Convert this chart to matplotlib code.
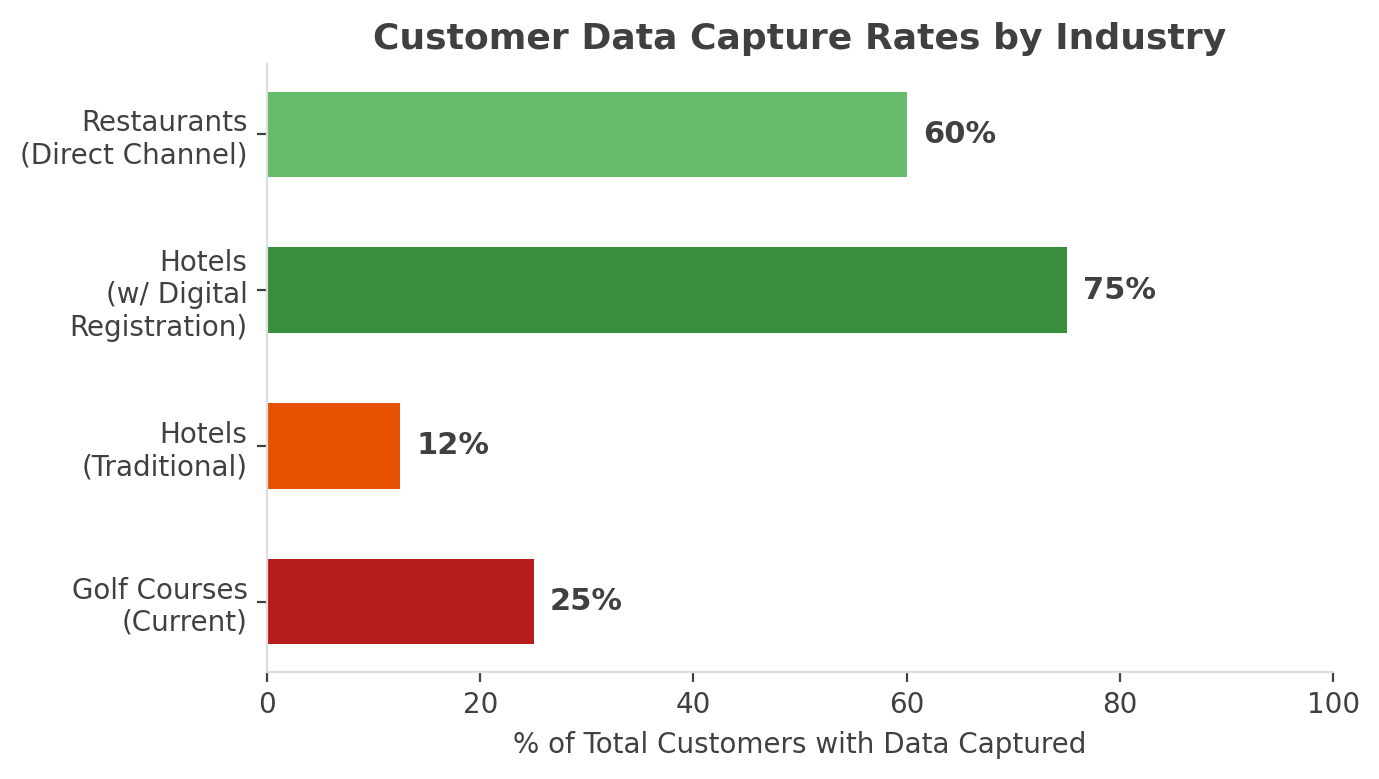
import matplotlib
matplotlib.use('Agg')
import matplotlib.pyplot as plt

# data
categories = ['Golf Courses\n(Current)', 'Hotels\n(Traditional)',
              'Hotels\n(w/ Digital\nRegistration)', 'Restaurants\n(Direct Channel)']
capture_rates = [25, 12.5, 75, 60]
value_labels = ['25%', '12%', '75%', '60%']
bar_colors = ['#B71C1C', '#E65100', '#388E3C', '#66BB6A']

TEXT = '#404040'
SPINE = '#DDDDDD'

fig = plt.figure(figsize=(6.895, 3.895), dpi=200)
ax = fig.add_axes([0.1936, 0.1374, 0.7731, 0.7806])

ax.barh(categories, capture_rates, height=0.55, color=bar_colors)
for i, (v, lab) in enumerate(zip(capture_rates, value_labels)):
    ax.text(v + 1.5, i, lab, va='center', ha='left', fontsize=11,
            fontweight='bold', color=TEXT)

ax.set_xlim(0, 100)
ax.set_xlabel('% of Total Customers with Data Captured', fontsize=10, color=TEXT)
ax.set_title('Customer Data Capture Rates by Industry', fontsize=13,
             fontweight='bold', color=TEXT, pad=5.5)

for side in ['top', 'right']:
    ax.spines[side].set_visible(False)
for side in ['left', 'bottom']:
    ax.spines[side].set_color(SPINE)
    ax.spines[side].set_linewidth(0.8)
ax.tick_params(axis='both', colors=TEXT, labelsize=10, length=3.5, width=0.8)

fig.savefig('out.png', dpi=200)
